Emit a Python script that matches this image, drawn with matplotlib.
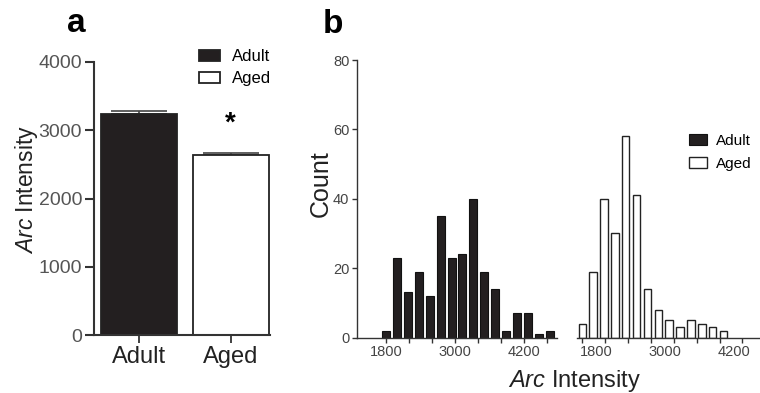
import matplotlib
matplotlib.use("Agg")
from matplotlib import pyplot as plt
from matplotlib.transforms import ScaledTranslation

plt.rcParams['font.family'] = ['Liberation Sans', 'DejaVu Sans']
plt.rcParams['mathtext.fontset'] = 'custom'
plt.rcParams['mathtext.it'] = 'Liberation Sans:italic'
plt.rcParams['mathtext.rm'] = 'Liberation Sans'

# panel a: mean Arc intensity (+ SEM)
groups = ["Adult", "Aged"]
mean_intensity = [3240, 2640]
sem_intensity = [40, 30]

# panel b: histograms of Arc intensity
adult_bins = [1800, 1990, 2180, 2370, 2560, 2750, 2940, 3130,
              3320, 3510, 3700, 3890, 4080, 4270, 4460, 4650]
adult_counts = [2, 23, 13, 19, 12, 35, 23, 24, 40, 19, 14, 2, 7, 7, 1, 2]
aged_bins = [1800, 1990, 2180, 2370, 2560, 2750, 2940, 3130,
             3320, 3510, 3700, 3890, 4080, 4270]
aged_counts = [4, 19, 40, 30, 58, 41, 14, 8, 5, 3, 5, 4, 3, 2]

major_x = [1800, 3000, 4200]
minor_x = [2200, 2600, 3400, 3800, 4600]

W, H = 760, 393
fig = plt.figure(figsize=(W / 100, H / 100), dpi=100)


def px_axes(x0, y0, x1, y1):
    # axes placed by pixel box (top-left origin)
    return fig.add_axes([x0 / W, 1 - y1 / H, (x1 - x0) / W, (y1 - y0) / H])


dark = '#231f20'
axis_col = '#333333'

# ---- panel a ----
axa = px_axes(94, 62, 270, 335)
bars = axa.bar([0, 1], mean_intensity, width=0.83, color=[dark, 'white'],
               edgecolor='#222222', linewidth=1.3, zorder=2)
axa.errorbar([0, 1], mean_intensity, yerr=[[0, 0], sem_intensity], fmt='none',
             ecolor='#444444', elinewidth=1.2, capsize=20, capthick=1.2, zorder=1)
axa.set_xlim(-0.49, 1.43)
axa.set_ylim(0, 4000)
axa.set_yticks([0, 1000, 2000, 3000, 4000])
axa.set_xticks([0, 1])
axa.set_xticklabels(groups)
for s in ['top', 'right']:
    axa.spines[s].set_visible(False)
for s in ['left', 'bottom']:
    axa.spines[s].set_linewidth(1.5)
    axa.spines[s].set_color(axis_col)
axa.tick_params(axis='y', length=6.5, width=1.5, color=axis_col, labelsize=14,
                labelcolor='#555555', pad=2)
axa.tick_params(axis='x', length=6, width=1.3, color=axis_col, labelsize=17,
                labelcolor='#222222', pad=2)
axa.text(1, 3000, '*', ha='center', va='baseline', fontsize=20, fontweight='bold')
axa.legend(handles=[bars[0], bars[1]], labels=groups, loc='upper left',
           bbox_to_anchor=(199 / W, 1 - 49 / H), bbox_transform=fig.transFigure,
           frameon=False, fontsize=12, handlelength=1.26, handleheight=0.66,
           handletextpad=0.72, borderpad=0, borderaxespad=0, labelspacing=0.45)
fig.text(26 / W, 1 - 190 / H, r'$\mathit{Arc}$ Intensity', rotation=90,
         ha='center', va='center', fontsize=16.5, color='#222222')

# ---- panel b ----
axl = px_axes(357, 60, 557, 337.5)
axr = px_axes(577, 60, 759, 337.5)
hl = axl.bar(adult_bins, adult_counts, width=140, color=dark,
             edgecolor='#111111', linewidth=0.8)
hr = axr.bar(aged_bins, aged_counts, width=130, color='white',
             edgecolor='#222222', linewidth=1.0)
axl.set_xlim(1296, 4774)
axr.set_xlim(1708, 4890)
for ax in (axl, axr):
    ax.set_ylim(0, 80)
    ax.set_xticks(major_x)
    ax.set_xticks(minor_x, minor=True)
    ax.spines['top'].set_visible(False)
    ax.spines['right'].set_visible(False)
    ax.spines['bottom'].set_linewidth(1.0)
    ax.spines['bottom'].set_color(axis_col)
    ax.tick_params(axis='x', which='both', length=3.5, width=1.0,
                   color=axis_col, labelsize=10.5, labelcolor='#444444', pad=2)
axl.set_yticks([0, 20, 40, 60, 80])
axl.spines['left'].set_linewidth(1.0)
axl.spines['left'].set_color(axis_col)
axl.tick_params(axis='y', length=3.5, width=1.0, color=axis_col,
                labelsize=10.5, labelcolor='#444444', pad=2)
axr.spines['left'].set_visible(False)
axr.set_yticks([])
# labels on the right piece sit a little right of their ticks
shift = ScaledTranslation(14 / 100, 0, fig.dpi_scale_trans)
for lbl in axr.get_xticklabels():
    lbl.set_transform(lbl.get_transform() + shift)

axr.legend(handles=[hl[0], hr[0]], labels=groups, loc='upper left',
           bbox_to_anchor=(689 / W, 1 - 134 / H), bbox_transform=fig.transFigure,
           frameon=False, fontsize=11, handlelength=1.18, handleheight=0.7,
           handletextpad=0.6, borderpad=0, borderaxespad=0, labelspacing=0.6)
fig.text(321 / W, 1 - 183.5 / H, 'Count', rotation=90, ha='center', va='center',
         fontsize=18, color='#222222')
fig.text(575 / W, 1 - 387 / H, r'$\mathit{Arc}$ Intensity', ha='center',
         va='baseline', fontsize=17, color='#222222')

fig.text(67 / W, 1 - 32 / H, 'a', fontsize=24, fontweight='bold', va='baseline')
fig.text(323 / W, 1 - 33 / H, 'b', fontsize=24, fontweight='bold', va='baseline')

fig.savefig('out.png', dpi=100)
